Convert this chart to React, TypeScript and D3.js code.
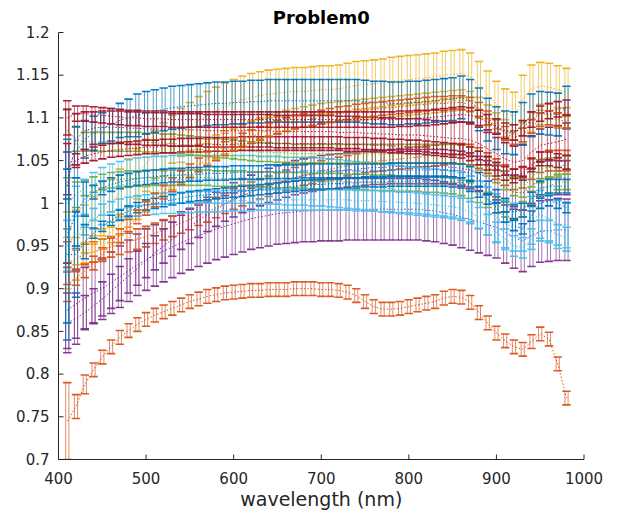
import React from 'react';
import * as d3 from 'd3';

// sampling grid (nm): 410 .. 980
const WAVELENGTHS: number[] = d3.range(410, 990, 10);
const X_TICKS = [400, 500, 600, 700, 800, 900, 1000];
const Y_TICKS = [0.7, 0.75, 0.8, 0.85, 0.9, 0.95, 1, 1.05, 1.1, 1.15, 1.2];
const TITLE = 'Problem0';
const X_LABEL = 'wavelength (nm)';

const BLUE = '#0072BD', ORANGE = '#D95319', YELLOW = '#EDB120', PURPLE = '#7E2F8E', GREEN = '#77AC30', CYAN = '#4DBEEE', RED = '#A2142F';

const O1_MEAN = [
  0.745, 0.762, 0.788, 0.805, 0.82, 0.832, 0.843, 0.851, 0.858, 0.864,
  0.869, 0.873, 0.877, 0.881, 0.885, 0.888, 0.891, 0.893, 0.895, 0.896,
  0.897, 0.898, 0.898, 0.899, 0.899, 0.899, 0.9, 0.9, 0.9, 0.899,
  0.899, 0.898, 0.896, 0.892, 0.885, 0.879, 0.876, 0.876, 0.877, 0.879,
  0.881, 0.883, 0.885, 0.889, 0.891, 0.89, 0.884, 0.872, 0.86, 0.848,
  0.839, 0.832, 0.829, 0.838, 0.847, 0.841, 0.812, 0.772];
const Y1_MEAN = [
  0.955, 0.96, 0.97, 0.98, 0.99, 1.0, 1.012, 1.024, 1.036, 1.047,
  1.057, 1.066, 1.075, 1.083, 1.09, 1.097, 1.103, 1.108, 1.113, 1.117,
  1.121, 1.124, 1.126, 1.128, 1.129, 1.13, 1.131, 1.131, 1.132, 1.133,
  1.133, 1.134, 1.136, 1.138, 1.139, 1.14, 1.141, 1.143, 1.144, 1.145,
  1.146, 1.147, 1.148, 1.15, 1.151, 1.152, 1.148, 1.138, 1.127, 1.115,
  1.106, 1.102, 1.122, 1.134, 1.137, 1.136, 1.133, 1.13];
const P1_MEAN = [
  0.875, 0.882, 0.889, 0.895, 0.9, 0.907, 0.914, 0.921, 0.928, 0.934,
  0.939, 0.944, 0.949, 0.954, 0.958, 0.962, 0.966, 0.97, 0.973, 0.976,
  0.979, 0.982, 0.984, 0.986, 0.988, 0.989, 0.99, 0.991, 0.991, 0.992,
  0.992, 0.992, 0.993, 0.993, 0.993, 0.993, 0.993, 0.993, 0.993, 0.993,
  0.993, 0.992, 0.991, 0.989, 0.987, 0.984, 0.981, 0.978, 0.975, 0.972,
  0.966, 0.96, 0.956, 0.962, 0.967, 0.968, 0.969, 0.969];
const C1_MEAN = [
  0.965, 0.985, 1.0, 1.008, 1.014, 1.018, 1.021, 1.023, 1.025, 1.026,
  1.027, 1.027, 1.028, 1.028, 1.028, 1.028, 1.028, 1.028, 1.028, 1.028,
  1.028, 1.028, 1.027, 1.027, 1.027, 1.026, 1.026, 1.026, 1.025, 1.025,
  1.024, 1.023, 1.022, 1.021, 1.02, 1.019, 1.018, 1.017, 1.016, 1.015,
  1.014, 1.013, 1.012, 1.011, 1.01, 1.008, 1.004, 0.998, 0.991, 0.983,
  0.976, 0.972, 0.972, 0.98, 0.987, 0.982, 0.975, 0.972];
const R1_MEAN = [
  1.02, 1.075, 1.085, 1.088, 1.089, 1.089, 1.089, 1.088, 1.088, 1.087,
  1.087, 1.087, 1.086, 1.086, 1.086, 1.086, 1.085, 1.085, 1.085, 1.085,
  1.085, 1.085, 1.085, 1.085, 1.084, 1.084, 1.084, 1.084, 1.084, 1.084,
  1.084, 1.083, 1.083, 1.083, 1.082, 1.082, 1.081, 1.081, 1.08, 1.08,
  1.08, 1.079, 1.078, 1.077, 1.076, 1.076, 1.074, 1.07, 1.064, 1.058,
  1.052, 1.048, 1.05, 1.06, 1.068, 1.07, 1.072, 1.075];
const B1_MEAN = [
  1.04, 1.06, 1.075, 1.082, 1.088, 1.092, 1.097, 1.1, 1.103, 1.106,
  1.108, 1.11, 1.112, 1.113, 1.114, 1.115, 1.116, 1.117, 1.117, 1.118,
  1.118, 1.119, 1.119, 1.12, 1.12, 1.12, 1.12, 1.12, 1.12, 1.12,
  1.12, 1.12, 1.12, 1.12, 1.119, 1.118, 1.118, 1.117, 1.117, 1.118,
  1.118, 1.119, 1.12, 1.121, 1.122, 1.124, 1.12, 1.11, 1.098, 1.088,
  1.083, 1.082, 1.093, 1.103, 1.106, 1.105, 1.104, 1.112];
const G1_MEAN = [
  1.085, 1.075, 1.072, 1.072, 1.072, 1.072, 1.072, 1.072, 1.072, 1.071,
  1.071, 1.07, 1.07, 1.069, 1.068, 1.067, 1.066, 1.065, 1.064, 1.063,
  1.062, 1.061, 1.06, 1.06, 1.059, 1.059, 1.058, 1.058, 1.058, 1.058,
  1.058, 1.058, 1.058, 1.058, 1.058, 1.058, 1.058, 1.058, 1.058, 1.058,
  1.058, 1.058, 1.058, 1.058, 1.058, 1.057, 1.055, 1.05, 1.043, 1.035,
  1.027, 1.02, 1.018, 1.03, 1.04, 1.042, 1.043, 1.045];
const B2_MEAN = [
  0.94, 0.94, 0.955, 0.965, 0.973, 0.98, 0.986, 0.991, 0.995, 0.998,
  1.0, 1.002, 1.004, 1.006, 1.008, 1.009, 1.01, 1.011, 1.012, 1.013,
  1.014, 1.015, 1.016, 1.017, 1.018, 1.019, 1.02, 1.021, 1.022, 1.022,
  1.023, 1.023, 1.024, 1.024, 1.025, 1.025, 1.025, 1.026, 1.026, 1.026,
  1.026, 1.026, 1.026, 1.026, 1.025, 1.024, 1.02, 1.013, 1.005, 0.995,
  0.984, 0.974, 0.97, 0.985, 1.0, 1.003, 1.0, 0.995];
const O2_MEAN = [
  0.93, 0.935, 0.94, 0.943, 0.946, 0.949, 0.952, 0.955, 0.958, 0.961,
  0.965, 0.969, 0.973, 0.977, 0.981, 0.986, 0.99, 0.995, 1.0, 1.005,
  1.009, 1.013, 1.017, 1.02, 1.024, 1.027, 1.03, 1.033, 1.035, 1.038,
  1.04, 1.042, 1.044, 1.046, 1.048, 1.049, 1.05, 1.051, 1.052, 1.053,
  1.054, 1.055, 1.056, 1.057, 1.058, 1.058, 1.057, 1.053, 1.047, 1.04,
  1.033, 1.028, 1.03, 1.04, 1.048, 1.05, 1.05, 1.05];
const Y2_MEAN = [
  0.93, 0.935, 0.942, 0.95, 0.958, 0.966, 0.975, 0.984, 0.993, 1.002,
  1.011, 1.02, 1.028, 1.036, 1.044, 1.051, 1.058, 1.064, 1.07, 1.075,
  1.08, 1.084, 1.088, 1.091, 1.094, 1.097, 1.099, 1.101, 1.103, 1.105,
  1.106, 1.107, 1.108, 1.109, 1.11, 1.111, 1.112, 1.113, 1.114, 1.115,
  1.116, 1.117, 1.118, 1.119, 1.12, 1.121, 1.119, 1.112, 1.103, 1.094,
  1.086, 1.08, 1.084, 1.095, 1.104, 1.104, 1.1, 1.1];
const P2_MEAN = [
  0.86, 0.865, 0.872, 0.88, 0.888, 0.897, 0.906, 0.915, 0.924, 0.933,
  0.942, 0.95, 0.958, 0.966, 0.973, 0.98, 0.987, 0.993, 0.999, 1.004,
  1.009, 1.013, 1.017, 1.021, 1.024, 1.027, 1.03, 1.032, 1.034, 1.036,
  1.037, 1.038, 1.039, 1.04, 1.041, 1.042, 1.042, 1.043, 1.043, 1.043,
  1.043, 1.043, 1.043, 1.043, 1.042, 1.041, 1.039, 1.035, 1.03, 1.024,
  1.018, 1.013, 1.012, 1.02, 1.028, 1.03, 1.03, 1.03];
const G2_MEAN = [
  1.0, 1.01, 1.018, 1.022, 1.025, 1.027, 1.028, 1.029, 1.029, 1.03,
  1.03, 1.03, 1.03, 1.03, 1.03, 1.03, 1.03, 1.029, 1.029, 1.029,
  1.029, 1.028, 1.028, 1.028, 1.027, 1.027, 1.027, 1.027, 1.026, 1.026,
  1.026, 1.026, 1.025, 1.025, 1.025, 1.024, 1.024, 1.024, 1.023, 1.023,
  1.023, 1.022, 1.022, 1.021, 1.02, 1.018, 1.015, 1.01, 1.004, 0.998,
  0.993, 0.99, 0.993, 1.005, 1.015, 1.02, 1.025, 1.025];
const R2_MEAN = [
  1.04, 1.05, 1.055, 1.058, 1.06, 1.062, 1.063, 1.064, 1.065, 1.066,
  1.066, 1.067, 1.067, 1.068, 1.068, 1.068, 1.069, 1.069, 1.069, 1.069,
  1.07, 1.07, 1.07, 1.07, 1.07, 1.07, 1.07, 1.07, 1.07, 1.07,
  1.07, 1.07, 1.069, 1.069, 1.069, 1.068, 1.068, 1.067, 1.067, 1.066,
  1.066, 1.065, 1.064, 1.063, 1.062, 1.061, 1.058, 1.053, 1.047, 1.04,
  1.035, 1.032, 1.035, 1.045, 1.052, 1.052, 1.05, 1.048];
const R3_MEAN = [
  1.1, 1.105, 1.105, 1.104, 1.103, 1.102, 1.101, 1.1, 1.1, 1.099,
  1.099, 1.099, 1.098, 1.098, 1.098, 1.098, 1.098, 1.098, 1.098, 1.098,
  1.098, 1.098, 1.098, 1.098, 1.098, 1.098, 1.098, 1.098, 1.098, 1.098,
  1.098, 1.098, 1.098, 1.098, 1.098, 1.098, 1.098, 1.098, 1.099, 1.099,
  1.1, 1.1, 1.101, 1.102, 1.103, 1.104, 1.103, 1.1, 1.095, 1.09,
  1.085, 1.083, 1.088, 1.098, 1.105, 1.108, 1.11, 1.112];
const O3_MEAN = [
  0.905, 0.912, 0.921, 0.93, 0.94, 0.951, 0.962, 0.973, 0.984, 0.994,
  1.004, 1.013, 1.022, 1.03, 1.038, 1.045, 1.052, 1.058, 1.064, 1.069,
  1.074, 1.078, 1.082, 1.086, 1.089, 1.092, 1.095, 1.097, 1.099, 1.101,
  1.103, 1.105, 1.106, 1.108, 1.109, 1.11, 1.111, 1.112, 1.113, 1.114,
  1.115, 1.116, 1.117, 1.117, 1.118, 1.118, 1.116, 1.11, 1.1, 1.09,
  1.082, 1.077, 1.08, 1.09, 1.098, 1.1, 1.098, 1.096];
const C2_MEAN = [
  0.95, 0.965, 0.975, 0.982, 0.987, 0.99, 0.993, 0.995, 0.997, 0.998,
  0.999, 1.0, 1.0, 1.001, 1.001, 1.002, 1.002, 1.002, 1.003, 1.003,
  1.003, 1.003, 1.004, 1.004, 1.004, 1.004, 1.004, 1.004, 1.004, 1.004,
  1.004, 1.004, 1.004, 1.003, 1.003, 1.003, 1.002, 1.002, 1.001, 1.001,
  1.0, 0.999, 0.998, 0.997, 0.996, 0.994, 0.99, 0.983, 0.975, 0.966,
  0.958, 0.95, 0.948, 0.958, 0.968, 0.968, 0.963, 0.96];
const B3_MEAN = [
  0.96, 0.99, 1.005, 1.013, 1.018, 1.022, 1.025, 1.027, 1.029, 1.03,
  1.031, 1.032, 1.033, 1.033, 1.034, 1.034, 1.035, 1.035, 1.035, 1.036,
  1.036, 1.036, 1.036, 1.037, 1.037, 1.037, 1.037, 1.038, 1.038, 1.038,
  1.038, 1.038, 1.038, 1.038, 1.038, 1.038, 1.038, 1.039, 1.039, 1.039,
  1.039, 1.039, 1.039, 1.039, 1.039, 1.038, 1.035, 1.028, 1.018, 1.008,
  0.998, 0.99, 0.992, 1.005, 1.018, 1.02, 1.02, 1.02];

// half-widths of the error bars: first few points listed, then a constant
const O1_ERR_HEAD = [0.045, 0.014, 0.011]; const O1_ERR = 0.008;
const Y1_ERR_HEAD = [0.035, 0.032]; const Y1_ERR = 0.028;
const P1_ERR_HEAD = [0.045, 0.04]; const P1_ERR = 0.036;
const C1_ERR_HEAD = [0.04, 0.035]; const C1_ERR = 0.028;
const R1_ERR_HEAD = [0.09, 0.03, 0.022]; const R1_ERR = 0.019;
const B1_ERR_HEAD = [0.035, 0.03, 0.022, 0.02, 0.018, 0.019, 0.02, 0.022]; const B1_ERR = 0.025;
const G1_ERR_HEAD = [0.025, 0.014]; const G1_ERR = 0.011;
const B2_ERR_HEAD = [0.1, 0.05, 0.02]; const B2_ERR = 0.006;
const O2_ERR_HEAD = [0.025]; const O2_ERR = 0.012;
const Y2_ERR_HEAD = [0.03, 0.025]; const Y2_ERR = 0.012;
const P2_ERR_HEAD = [0.035, 0.03]; const P2_ERR = 0.02;
const G2_ERR_HEAD = [0.03, 0.015]; const G2_ERR = 0.009;
const R2_ERR_HEAD = [0.03]; const R2_ERR = 0.008;
const R3_ERR_HEAD = [0.02]; const R3_ERR = 0.009;
const O3_ERR_HEAD = [0.02]; const O3_ERR = 0.008;
const C2_ERR_HEAD = [0.03, 0.02]; const C2_ERR = 0.012;
const B3_ERR_HEAD = [0.1, 0.04, 0.02]; const B3_ERR = 0.008;

type Series = { color: string; mean: number[]; head: number[]; err: number };
const SERIES: Series[] = [
  { color: ORANGE, mean: O1_MEAN, head: O1_ERR_HEAD, err: O1_ERR },
  { color: YELLOW, mean: Y1_MEAN, head: Y1_ERR_HEAD, err: Y1_ERR },
  { color: PURPLE, mean: P1_MEAN, head: P1_ERR_HEAD, err: P1_ERR },
  { color: ORANGE, mean: O2_MEAN, head: O2_ERR_HEAD, err: O2_ERR },
  { color: YELLOW, mean: Y2_MEAN, head: Y2_ERR_HEAD, err: Y2_ERR },
  { color: PURPLE, mean: P2_MEAN, head: P2_ERR_HEAD, err: P2_ERR },
  { color: GREEN, mean: G2_MEAN, head: G2_ERR_HEAD, err: G2_ERR },
  { color: CYAN, mean: C1_MEAN, head: C1_ERR_HEAD, err: C1_ERR },
  { color: GREEN, mean: G1_MEAN, head: G1_ERR_HEAD, err: G1_ERR },
  { color: RED, mean: R1_MEAN, head: R1_ERR_HEAD, err: R1_ERR },
  { color: BLUE, mean: B1_MEAN, head: B1_ERR_HEAD, err: B1_ERR },
  { color: CYAN, mean: C2_MEAN, head: C2_ERR_HEAD, err: C2_ERR },
  { color: RED, mean: R2_MEAN, head: R2_ERR_HEAD, err: R2_ERR },
  { color: BLUE, mean: B2_MEAN, head: B2_ERR_HEAD, err: B2_ERR },
  { color: ORANGE, mean: O3_MEAN, head: O3_ERR_HEAD, err: O3_ERR },
  { color: RED, mean: R3_MEAN, head: R3_ERR_HEAD, err: R3_ERR },
  { color: BLUE, mean: B3_MEAN, head: B3_ERR_HEAD, err: B3_ERR },
];

const fmt = (v: number) => String(+v.toFixed(2));

export default function App() {
  const W = 620, H = 515;
  const left = 58.5, right = 584, top = 32.5, bottom = 459.5;
  const x = d3.scaleLinear().domain([400, 1000]).range([left, right]);
  const y = d3.scaleLinear().domain([0.7, 1.2]).range([bottom, top]);
  const cap = 4.2;
  const axisColor = '#262626';
  const font = 'DejaVu Sans, sans-serif';

  return (
    <svg width={W} height={H} viewBox={`0 0 ${W} ${H}`}
      style={{ position: 'absolute', left: 0, top: 0, background: '#fff' }} fontFamily={font}>
      <defs>
        <clipPath id="plotArea">
          <rect x={left} y={top} width={right - left} height={bottom - top} />
        </clipPath>
      </defs>
      <g clipPath="url(#plotArea)">
        {SERIES.map((s, si) => {
          const errAt = (i: number) => (i < s.head.length ? s.head[i] : s.err);
          let whisk = '', caps = '';
          s.mean.forEach((m, i) => {
            const cx = x(WAVELENGTHS[i]);
            const y1 = y(m + errAt(i)), y2 = y(m - errAt(i));
            whisk += `M${cx - 1.6},${y1}V${y2}M${cx + 1.6},${y1}V${y2}`;
            caps += `M${cx - cap},${y1}H${cx + cap}M${cx - cap},${y2}H${cx + cap}`;
          });
          const line = d3.line<number>().x((_, i) => x(WAVELENGTHS[i])).y(d => y(d));
          return (
            <g key={si}>
              <path d={whisk} stroke={s.color} strokeWidth={1} strokeOpacity={0.68} fill="none" />
              <path d={caps} stroke={s.color} strokeWidth={1.6} strokeOpacity={0.95} fill="none" />
              <path d={line(s.mean) || ''} stroke={s.color} strokeWidth={1} strokeDasharray="1.5 2" fill="none" />
            </g>
          );
        })}
      </g>
      {/* axes */}
      <line x1={left} x2={left} y1={top} y2={bottom} stroke={axisColor} strokeWidth={1} />
      <line x1={left} x2={right} y1={bottom} y2={bottom} stroke={axisColor} strokeWidth={1} />
      {Y_TICKS.map(t => (
        <g key={'y' + t}>
          <line x1={left} x2={left + 5} y1={y(t)} y2={y(t)} stroke={axisColor} />
          <text x={left - 9} y={y(t)} dy="0.35em" textAnchor="end" fontSize={15} fill={axisColor}>{fmt(t)}</text>
        </g>
      ))}
      {X_TICKS.map(t => (
        <g key={'x' + t}>
          <line x1={x(t)} x2={x(t)} y1={bottom} y2={bottom - 5} stroke={axisColor} />
          <text x={x(t)} y={bottom + 24} textAnchor="middle" fontSize={15} fill={axisColor}>{t}</text>
        </g>
      ))}
      <text x={(left + right) / 2} y={506} textAnchor="middle" fontSize={19} fill={axisColor}>{X_LABEL}</text>
      <text x={(left + right) / 2} y={24} textAnchor="middle" fontSize={18} fontWeight="bold" fill="#000">{TITLE}</text>
    </svg>
  );
}
